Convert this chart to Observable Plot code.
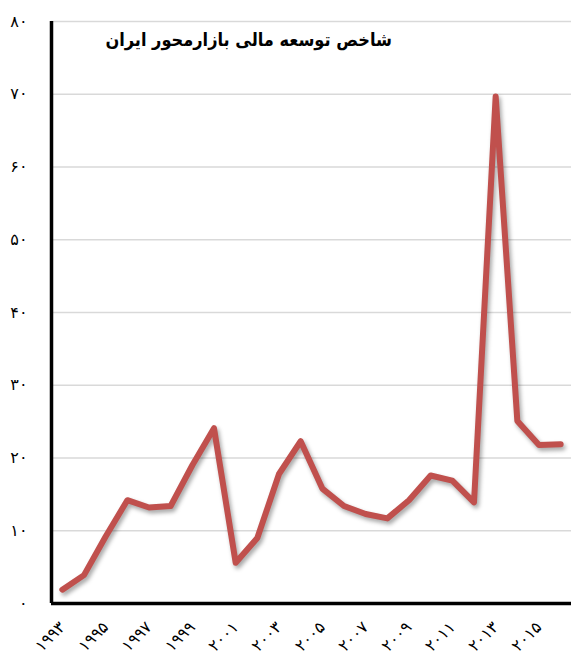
<!DOCTYPE html>
<html><head><meta charset="utf-8">
<script src="https://cdn.jsdelivr.net/npm/d3@7"></script>
<script src="https://cdn.jsdelivr.net/npm/@observablehq/plot@0.6"></script>
<style>
body{margin:0;background:#fff;}
#chart{position:relative;width:571px;height:659px;}
#title{position:absolute;top:29px;right:179px;font:bold 18px "DejaVu Sans Condensed","DejaVu Sans";direction:rtl;white-space:nowrap;color:#000;}
g[aria-label="line"] path{filter:drop-shadow(2px 3px 2px rgba(0,0,0,0.35));}
</style></head>
<body><div id="chart"><div id="title"></div></div>
<script>
const title = "شاخص توسعه مالی بازارمحور ایران";
const years = [1993,1994,1995,1996,1997,1998,1999,2000,2001,2002,2003,2004,2005,2006,2007,2008,2009,2010,2011,2012,2013,2014,2015,2016];
const values = [1.9,3.9,9.2,14.2,13.2,13.4,19.0,24.1,5.6,9.0,17.8,22.3,15.8,13.4,12.3,11.7,14.2,17.6,16.9,13.9,69.7,25.1,21.8,21.9];
const yTicks = [0,10,20,30,40,50,60,70,80];
const xTicks = [1993,1995,1997,1999,2001,2003,2005,2007,2009,2011,2013,2015];

const fa = v => String(v).replace(/\d/g, d => "۰۱۲۳۴۵۶۷۸۹"[d]);
const data = years.map((year, i) => ({year, value: values[i]}));

const chart = Plot.plot({
  width: 571,
  height: 659,
  marginLeft: 51,
  marginRight: 0,
  marginTop: 21,
  marginBottom: 56,
  style: {fontFamily: "DejaVu Sans", fontSize: "16px", background: "transparent", color: "#000"},
  x: {
    domain: [years[0] - 0.5, years[years.length - 1] + 0.5],
    ticks: xTicks,
    tickFormat: fa,
    tickRotate: -45,
    tickSize: 0,
    tickPadding: 21,
    label: null
  },
  y: {
    domain: [0, 80],
    ticks: yTicks,
    tickFormat: fa,
    tickSize: 0,
    tickPadding: 24,
    label: null
  },
  marks: [
    Plot.ruleY(yTicks.filter(t => t > 0), {stroke: "#d9d9d9", strokeWidth: 1.5}),
    Plot.line(data, {x: "year", y: "value", stroke: "#C0504D", strokeWidth: 6, strokeLinejoin: "round", strokeLinecap: "round"}),
    Plot.ruleX([years[0] - 0.5], {stroke: "#000", strokeWidth: 3.5}),
    Plot.ruleY([0], {stroke: "#000", strokeWidth: 3.5})
  ]
});
const root = document.getElementById("chart");
root.insertBefore(chart, root.firstChild);
document.getElementById("title").textContent = title;
</script>
</body></html>
